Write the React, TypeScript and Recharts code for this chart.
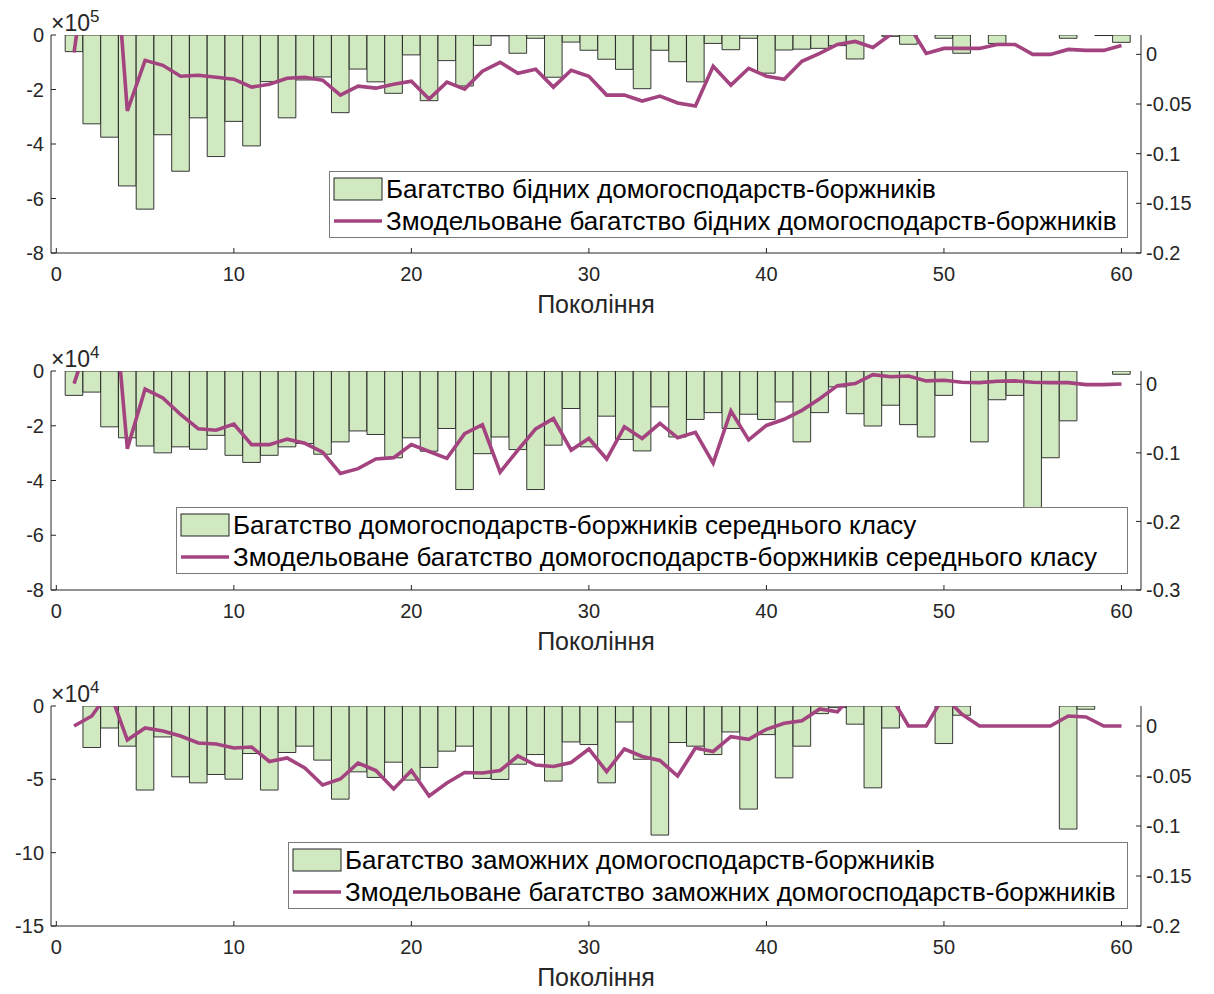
import React from 'react';
import { ComposedChart, Bar, Line, XAxis, YAxis, Legend, Label } from 'recharts';

const generations = Array.from({ length: 60 }, (_, i) => i + 1);
const xTicks = [0, 10, 20, 30, 40, 50, 60];

// poor households (x1e5)
const poorWealth = [
  -0.61e5, -3.26e5, -3.75e5, -5.54e5, -6.39e5, -3.66e5, -5.0e5, -3.04e5, -4.46e5, -3.17e5,
  -4.07e5, -1.71e5, -3.04e5, -1.65e5, -1.54e5, -2.85e5, -1.25e5, -1.72e5, -2.14e5, -0.73e5,
  -2.41e5, -0.94e5, -1.87e5, -0.38e5, -0.03e5, -0.67e5, -0.12e5, -1.55e5, -0.26e5, -0.56e5,
  -0.89e5, -1.26e5, -1.97e5, -0.56e5, -0.98e5, -1.72e5, -0.31e5, -0.54e5, -0.12e5, -1.4e5,
  -0.55e5, -0.52e5, -0.49e5, -0.39e5, -0.88e5, 0, -0.05e5, -0.34e5, 0, -0.12e5,
  -0.67e5, 0, -0.31e5, 0, 0, 0, -0.12e5, 0, -0.02e5, -0.27e5,
];
const poorModel = [
  0.002, 0.13, 0.18, -0.057, -0.006, -0.011, -0.022, -0.021, -0.023, -0.025,
  -0.033, -0.03, -0.024, -0.023, -0.026, -0.041, -0.032, -0.034, -0.03, -0.027,
  -0.045, -0.028, -0.035, -0.017, -0.008, -0.019, -0.015, -0.033, -0.016, -0.022,
  -0.041, -0.041, -0.047, -0.042, -0.049, -0.052, -0.012, -0.031, -0.014, -0.022,
  -0.025, -0.007, 0.001, 0.01, 0.013, 0.007, 0.02, 0.03, 0.001, 0.006,
  0.006, 0.006, 0.01, 0.01, 0, 0, 0.005, 0.004, 0.004, 0.009,
];

// middle class households (x1e4)
const middleWealth = [
  -0.89e4, -0.77e4, -2.04e4, -2.44e4, -2.74e4, -2.99e4, -2.77e4, -2.86e4, -2.35e4, -3.08e4,
  -3.34e4, -3.08e4, -2.77e4, -2.65e4, -3.04e4, -2.59e4, -2.19e4, -2.32e4, -3.17e4, -2.44e4,
  -2.93e4, -2.1e4, -4.33e4, -3.02e4, -2.41e4, -2.87e4, -4.33e4, -2.71e4, -1.37e4, -2.77e4,
  -1.65e4, -2.5e4, -2.92e4, -1.31e4, -2.41e4, -1.77e4, -1.52e4, -2.1e4, -1.58e4, -1.77e4,
  -1.13e4, -2.59e4, -1.52e4, -0.58e4, -1.56e4, -2.01e4, -1.25e4, -1.96e4, -2.41e4, -0.89e4,
  0, -2.59e4, -1.05e4, -0.89e4, -5.6e4, -3.17e4, -1.82e4, 0, 0, -0.12e4,
];
const middleModel = [
  0.001, 0.08, 0.2, -0.094, -0.007, -0.02, -0.044, -0.065, -0.067, -0.058,
  -0.088, -0.088, -0.08, -0.086, -0.099, -0.13, -0.123, -0.109, -0.107, -0.088,
  -0.098, -0.108, -0.072, -0.059, -0.128, -0.096, -0.065, -0.05, -0.096, -0.079,
  -0.109, -0.062, -0.079, -0.057, -0.078, -0.07, -0.115, -0.039, -0.081, -0.06,
  -0.051, -0.038, -0.021, -0.002, 0.001, 0.014, 0.011, 0.012, 0.005, 0.006,
  0.003, 0.0025, 0.0045, 0.005, 0.003, 0.0025, 0.0025, -0.0005, -0.0005, 0.0005,
];

// wealthy households (x1e4)
const richWealth = [
  0, -2.83e4, -1.5e4, -2.74e4, -5.73e4, -2.11e4, -4.83e4, -5.24e4, -4.67e4, -4.99e4,
  -3.24e4, -5.73e4, -3.17e4, -2.74e4, -3.69e4, -6.35e4, -4.49e4, -4.87e4, -3.83e4, -5.05e4,
  -4.19e4, -3.08e4, -2.74e4, -4.94e4, -5.01e4, -3.97e4, -3.31e4, -5.12e4, -2.45e4, -2.63e4,
  -5.24e4, -1.09e4, -3.63e4, -8.8e4, -2.49e4, -2.74e4, -3.31e4, -1.77e4, -7.03e4, -1.95e4,
  -4.9e4, -2.74e4, -0.52e4, -0.11e4, -1.24e4, -5.58e4, -1.5e4, 0, 0, -2.56e4,
  -0.63e4, 0, 0, 0, 0, 0, -8.39e4, -0.22e4, 0, 0,
];
const richModel = [
  0, 0.01, 0.035, -0.014, -0.002, -0.005, -0.01, -0.017, -0.018, -0.022,
  -0.021, -0.0355, -0.032, -0.042, -0.059, -0.053, -0.037, -0.0445, -0.063, -0.0445,
  -0.07, -0.057, -0.0465, -0.047, -0.0445, -0.03, -0.039, -0.0405, -0.0365, -0.023,
  -0.0455, -0.023, -0.0305, -0.0345, -0.05, -0.022, -0.0255, -0.0106, -0.0133, -0.0033,
  0.0027, 0.0053, 0.017, 0.0142, 0.035, 0.045, 0.03, 0, 0, 0.03,
  0.012, 0, 0, 0, 0, 0, 0.01, 0.009, 0, 0,
];

const FONT = '"Liberation Sans", Arial, sans-serif';
const AXIS = '#262626';
const BAR_FILL = '#d0e9c1';
const LINE_COLOR = '#a3437f';

type PanelProps = {
  top: number;
  plotHeight: number;
  bars: number[];
  model: number[];
  leftDomain: [number, number];
  leftTicks: number[];
  scale: number;
  exponent: string;
  rightDomain: [number, number];
  rightTicks: number[];
  legendLeft: number;
  barName: string;
  lineName: string;
};

function LegendBox({ barName, lineName }: { barName: string; lineName: string }) {
  return (
    <div
      style={{
        boxSizing: 'border-box',
        width: '100%',
        height: '100%',
        border: '1px solid #7a7a7a',
        background: '#fff',
        fontFamily: FONT,
        fontSize: 26,
        lineHeight: '30px',
        color: '#000',
        paddingTop: 1,
        whiteSpace: 'nowrap',
      }}
    >
      <div style={{ display: 'flex', alignItems: 'center', height: 32 }}>
        <svg width={56} height={26} style={{ flex: 'none' }}>
          <rect x={4} y={2} width={48} height={22} fill={BAR_FILL} stroke="#222" strokeWidth={1} />
        </svg>
        <span>{barName}</span>
      </div>
      <div style={{ display: 'flex', alignItems: 'center', height: 32 }}>
        <svg width={56} height={26} style={{ flex: 'none' }}>
          <line x1={4} y1={13} x2={52} y2={13} stroke={LINE_COLOR} strokeWidth={3.5} />
        </svg>
        <span>{lineName}</span>
      </div>
    </div>
  );
}

function Panel(p: PanelProps) {
  const data = generations.map((g, i) => ({ gen: g, bar: p.bars[i], model: p.model[i] }));
  const marginTop = 35;
  const xAxisHeight = 65;
  const height = marginTop + p.plotHeight + xAxisHeight;
  const tickStyle = { fill: AXIS, fontSize: 20, fontFamily: FONT };

  return (
    <div style={{ position: 'absolute', left: 0, top: p.top }}>
      <ComposedChart
        width={1214}
        height={height}
        data={data}
        margin={{ top: marginTop, right: 0, left: 0, bottom: 0 }}
        barGap={0}
        barCategoryGap={0}
      >
        <XAxis
          dataKey="gen"
          type="number"
          domain={[-0.3, 61.1]}
          allowDataOverflow
          ticks={xTicks}
          interval={0}
          height={xAxisHeight}
          tickSize={-5}
          tickMargin={19}
          stroke={AXIS}
          tick={tickStyle}
          label={{
            value: 'Покоління',
            position: 'insideBottom',
            offset: 5,
            fill: AXIS,
            fontSize: 25,
            fontFamily: FONT,
          }}
        />
        <XAxis
          xAxisId="top"
          orientation="top"
          type="number"
          domain={[-0.3, 61.1]}
          allowDataOverflow
          ticks={xTicks}
          interval={0}
          height={0}
          tickSize={-5}
          stroke={AXIS}
          tickFormatter={() => ''}
        />
        <YAxis
          yAxisId="left"
          width={51}
          domain={p.leftDomain}
          allowDataOverflow
          ticks={p.leftTicks}
          interval={0}
          tickSize={-5}
          tickMargin={12}
          stroke={AXIS}
          tick={tickStyle}
          tickFormatter={(v: number) => String(Math.round((v / p.scale) * 100) / 100)}
        >
          <Label
            content={() => (
              <text x={51} y={marginTop - 4} fill={AXIS} fontSize={23} fontFamily={FONT}>
                ×10
                <tspan dy={-9} fontSize={17}>
                  {p.exponent}
                </tspan>
              </text>
            )}
          />
        </YAxis>
        <YAxis
          yAxisId="right"
          orientation="right"
          width={73}
          domain={p.rightDomain}
          allowDataOverflow
          ticks={p.rightTicks}
          interval={0}
          tickSize={-5}
          tickMargin={10}
          stroke={AXIS}
          tick={tickStyle}
        />
        <Bar
          yAxisId="left"
          dataKey="bar"
          name={p.barName}
          fill={BAR_FILL}
          stroke="#222"
          strokeWidth={0.9}
          barSize={17.6}
          isAnimationActive={false}
        />
        <Line
          yAxisId="right"
          dataKey="model"
          name={p.lineName}
          type="linear"
          stroke={LINE_COLOR}
          strokeWidth={3.6}
          dot={false}
          isAnimationActive={false}
        />
        <Legend
          layout="vertical"
          verticalAlign="middle"
          align="center"
          wrapperStyle={{ left: p.legendLeft, top: 171, width: 1128 - p.legendLeft, height: 67 }}
          content={() => <LegendBox barName={p.barName} lineName={p.lineName} />}
        />
      </ComposedChart>
    </div>
  );
}

export default function App() {
  return (
    <div style={{ position: 'absolute', left: 0, top: 0, width: 1214, height: 994, background: '#fff' }}>
      <Panel
        top={0}
        plotHeight={218}
        bars={poorWealth}
        model={poorModel}
        leftDomain={[-8e5, 0]}
        leftTicks={[-8e5, -6e5, -4e5, -2e5, 0]}
        scale={1e5}
        exponent="5"
        rightDomain={[-0.2, 0.0195]}
        rightTicks={[-0.2, -0.15, -0.1, -0.05, 0]}
        legendLeft={329}
        barName="Багатство бідних домогосподарств-боржників"
        lineName="Змодельоване багатство бідних домогосподарств-боржників"
      />
      <Panel
        top={336}
        plotHeight={219}
        bars={middleWealth}
        model={middleModel}
        leftDomain={[-8e4, 0]}
        leftTicks={[-8e4, -6e4, -4e4, -2e4, 0]}
        scale={1e4}
        exponent="4"
        rightDomain={[-0.3, 0.0194]}
        rightTicks={[-0.3, -0.2, -0.1, 0]}
        legendLeft={176}
        barName="Багатство домогосподарств-боржників середнього класу"
        lineName="Змодельоване багатство домогосподарств-боржників середнього класу"
      />
      <Panel
        top={671}
        plotHeight={220}
        bars={richWealth}
        model={richModel}
        leftDomain={[-15e4, 0]}
        leftTicks={[-15e4, -10e4, -5e4, 0]}
        scale={1e4}
        exponent="4"
        rightDomain={[-0.2, 0.02]}
        rightTicks={[-0.2, -0.15, -0.1, -0.05, 0]}
        legendLeft={288}
        barName="Багатство заможних домогосподарств-боржників"
        lineName="Змодельоване багатство заможних домогосподарств-боржників"
      />
    </div>
  );
}
